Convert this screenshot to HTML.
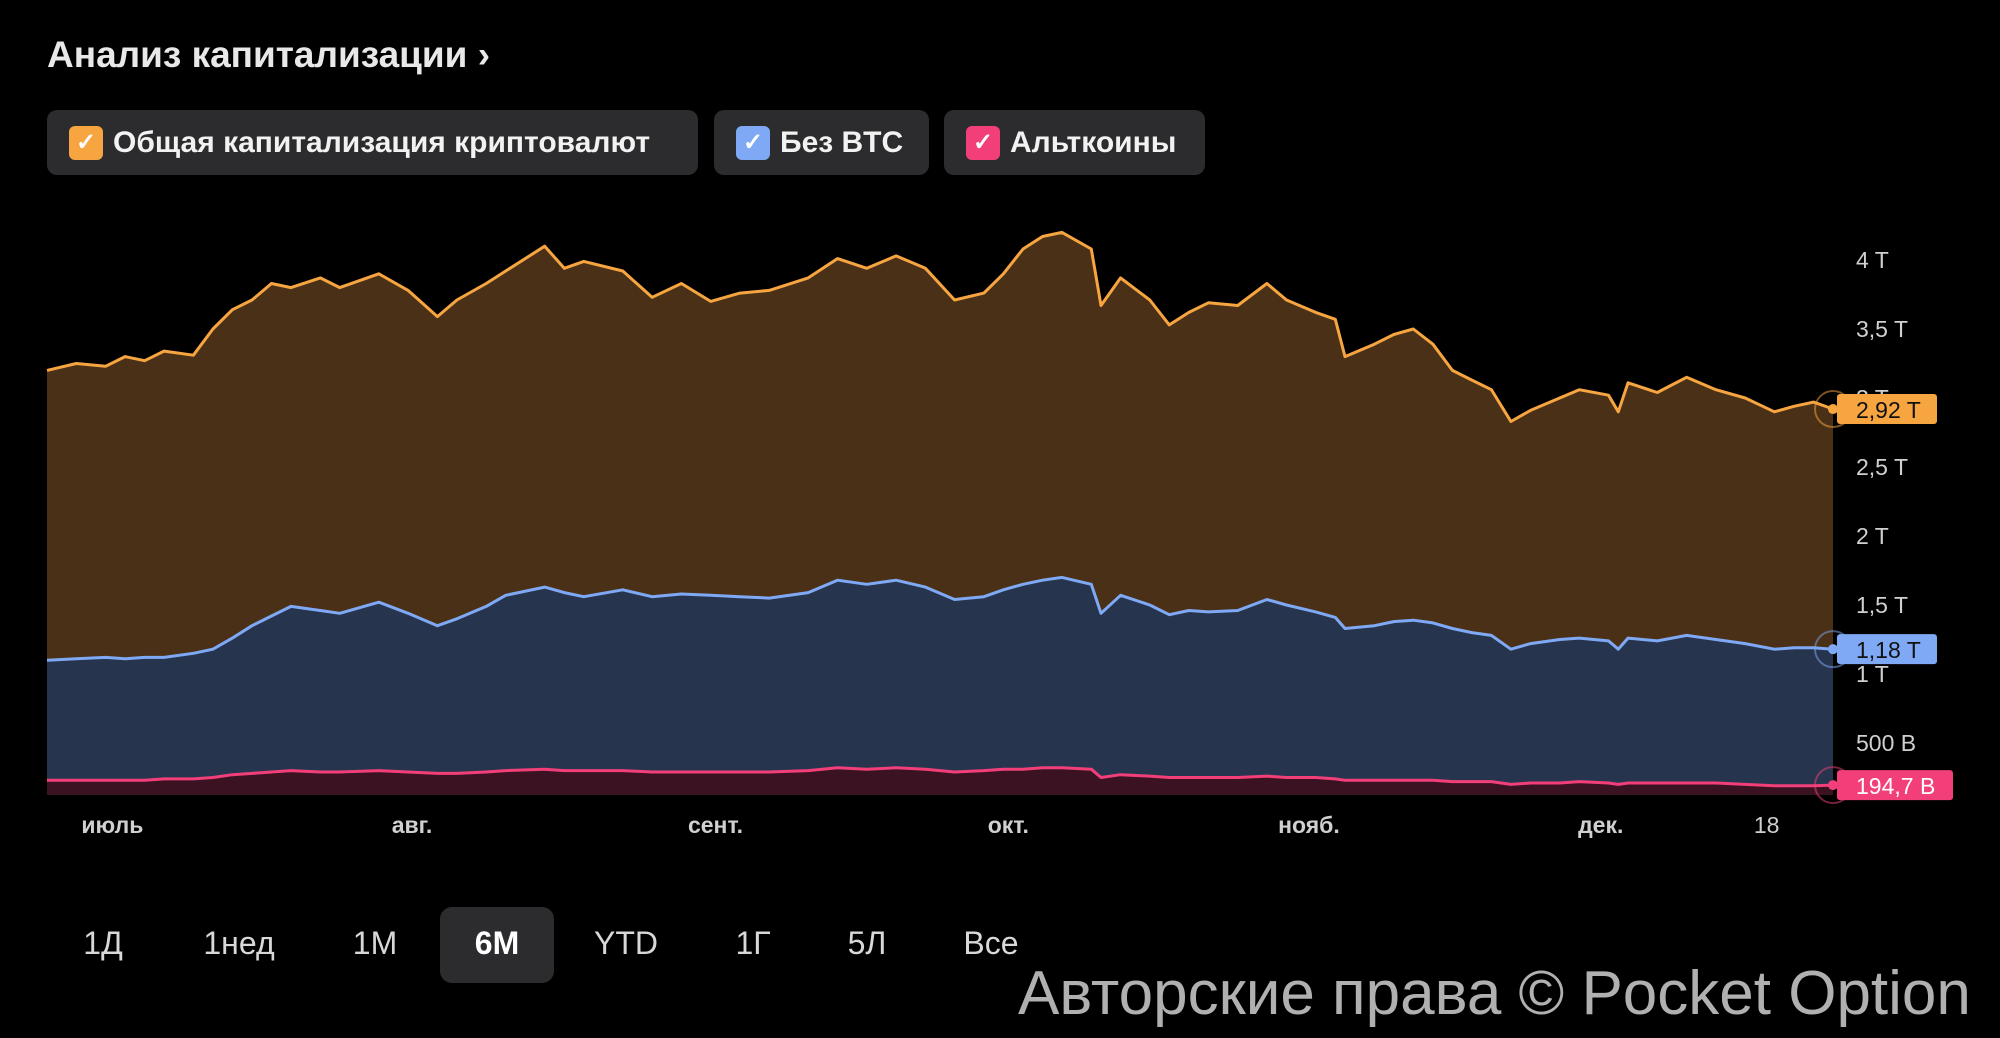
<!DOCTYPE html>
<html><head><meta charset="utf-8">
<style>
body{margin:0;background:#000;width:2000px;height:1038px;overflow:hidden;font-family:"Liberation Sans",sans-serif;color:#e6e6e6;position:relative}
.title{position:absolute;left:47px;top:34px;font-size:37px;font-weight:bold;color:#e8e8e8}
.chip{position:absolute;top:110px;height:65px;background:#2c2c2e;border-radius:10px;display:flex;align-items:center;font-size:30px;color:#f2f2f2;font-weight:bold}
.cb{width:34px;height:34px;border-radius:6px;margin:0 10px 0 22px;color:#fff;font-size:24px;display:flex;align-items:center;justify-content:center}
.tb{position:absolute;top:925px;font-size:32px;color:#d8d8d8;transform:translateX(-50%)}
.wm{position:absolute;left:1018px;top:958px;font-size:62px;color:#b0b0b0}
</style></head><body>
<div class="title">Анализ капитализации ›</div>
<div class="chip" style="left:47px;width:651px"><span class="cb" style="background:#f7a540">✓</span>Общая капитализация криптовалют</div>
<div class="chip" style="left:714px;width:215px"><span class="cb" style="background:#7fa9f5">✓</span>Без BTC</div>
<div class="chip" style="left:944px;width:261px"><span class="cb" style="background:#f23f7a">✓</span>Альткоины</div>
<svg id="chart" width="2000" height="1038" style="position:absolute;left:0;top:0"></svg>
<div style="position:absolute;left:440px;top:907px;width:114px;height:76px;background:#2c2c2e;border-radius:12px"></div>
<div class="tb" style="left:103px">1Д</div>
<div class="tb" style="left:239px">1нед</div>
<div class="tb" style="left:375px">1М</div>
<div class="tb" style="left:497px;color:#fff;font-weight:bold">6М</div>
<div class="tb" style="left:626px">YTD</div>
<div class="tb" style="left:753px">1Г</div>
<div class="tb" style="left:867px">5Л</div>
<div class="tb" style="left:991px">Все</div>
<div class="wm">Авторские права © Pocket Option</div>
<script>
const days=[0,3,6,8,10,12,15,17,19,21,23,25,28,30,34,37,40,42,45,47,51,53,55,59,62,65,68,71,74,78,81,84,87,90,93,96,98,100,102,104,107,108,110,113,115,117,119,122,125,127,130,132,133,136,138,140,142,144,146,148,150,152,155,157,160,161,162,165,168,171,174,177,179,181,183];
const totalCap=[3.20,3.25,3.23,3.30,3.27,3.34,3.31,3.50,3.64,3.71,3.83,3.80,3.87,3.80,3.90,3.78,3.59,3.71,3.83,3.92,4.10,3.94,3.99,3.92,3.73,3.83,3.70,3.76,3.78,3.87,4.01,3.94,4.03,3.94,3.71,3.76,3.90,4.08,4.17,4.20,4.08,3.67,3.87,3.71,3.53,3.62,3.69,3.67,3.83,3.71,3.62,3.57,3.30,3.39,3.46,3.50,3.39,3.20,3.13,3.06,2.83,2.91,3.00,3.06,3.02,2.90,3.11,3.04,3.15,3.06,3.00,2.90,2.94,2.97,2.92];
const exBtc=[1.10,1.11,1.12,1.11,1.12,1.12,1.15,1.18,1.26,1.35,1.42,1.49,1.46,1.44,1.52,1.44,1.35,1.40,1.49,1.57,1.63,1.59,1.56,1.61,1.56,1.58,1.57,1.56,1.55,1.59,1.68,1.65,1.68,1.63,1.54,1.56,1.61,1.65,1.68,1.70,1.65,1.44,1.57,1.50,1.43,1.46,1.45,1.46,1.54,1.50,1.45,1.41,1.33,1.35,1.38,1.39,1.37,1.33,1.30,1.28,1.18,1.22,1.25,1.26,1.24,1.18,1.26,1.24,1.28,1.25,1.22,1.18,1.19,1.19,1.18];
const altcoins=[0.23,0.23,0.23,0.23,0.23,0.24,0.24,0.25,0.27,0.28,0.29,0.30,0.29,0.29,0.30,0.29,0.28,0.28,0.29,0.30,0.31,0.30,0.30,0.30,0.29,0.29,0.29,0.29,0.29,0.30,0.32,0.31,0.32,0.31,0.29,0.30,0.31,0.31,0.32,0.32,0.31,0.25,0.27,0.26,0.25,0.25,0.25,0.25,0.26,0.25,0.25,0.24,0.23,0.23,0.23,0.23,0.23,0.22,0.22,0.22,0.20,0.21,0.21,0.22,0.21,0.20,0.21,0.21,0.21,0.21,0.20,0.19,0.19,0.19,0.195];
const yTicks=[0.5,1,1.5,2,2.5,3,3.5,4];
const yTickLabels=["500 B","1 T","1,5 T","2 T","2,5 T","3 T","3,5 T","4 T"];
const xTickDays=[6.7,37.4,68.5,98.5,129.3,159.2,176.2];
const xTickLabels=["июль","авг.","сент.","окт.","нояб.","дек.","18"];
const lastLabels=["2,92 T","1,18 T","194,7 B"];

const X0=47,X1=1833,PB=795,MAXD=183;
const sx=d=>X0+d/MAXD*(X1-X0);
const sy=v=>812-v*138;
const svg=document.getElementById('chart');
const NS='http://www.w3.org/2000/svg';
function mk(t,a){const e=document.createElementNS(NS,t);for(const k in a)e.setAttribute(k,a[k]);svg.appendChild(e);return e;}

yTicks.forEach((v,i)=>{const t=mk('text',{x:1856,y:sy(v)+8,'font-size':23,fill:'#d0d0d0','font-family':'Liberation Sans, sans-serif'});t.textContent=yTickLabels[i];

});

const series=[[totalCap,'#4a3016','#f7a540','total-cap'],[exBtc,'#27344d','#7fa9f5','ex-btc'],[altcoins,'#3b1222','#f23f7a','altcoins']];
series.forEach(([vals,fill,stroke,name],si)=>{
  let pts=vals.map((v,i)=>sx(days[i]).toFixed(1)+','+sy(v).toFixed(1));
  const area=mk('path',{d:'M'+sx(days[0])+','+PB+' L'+pts.join(' L')+' L'+sx(days[days.length-1])+','+PB+' Z',fill:fill});
  
  
  const line=mk('polyline',{points:pts.join(' '),fill:'none',stroke:stroke,'stroke-width':3,'stroke-linejoin':'round'});
  
  
  const lv=vals[vals.length-1],ly=sy(lv),lx=sx(days[days.length-1]);
  mk('circle',{cx:lx,cy:ly,r:18,fill:'none',stroke:stroke,'stroke-opacity':0.5,'stroke-width':2});
  mk('circle',{cx:lx,cy:ly,r:5,fill:stroke});
  const w=si==2?116:100;
  const r=mk('rect',{x:1837,y:ly-15,width:w,height:30,rx:3,fill:stroke});
  
  
  const t=mk('text',{x:1856,y:ly+9,'font-size':23,fill:si==2?'#fff':'#111','font-family':'Liberation Sans, sans-serif'});t.textContent=lastLabels[si];
  
  
});
xTickDays.forEach((d,i)=>{const t=mk('text',{x:sx(d),y:833,'text-anchor':'middle','font-size':23,'font-weight':i==6?'normal':'bold',fill:'#d0d0d0','font-family':'Liberation Sans, sans-serif'});t.textContent=xTickLabels[i];

});
</script>
</body></html>
